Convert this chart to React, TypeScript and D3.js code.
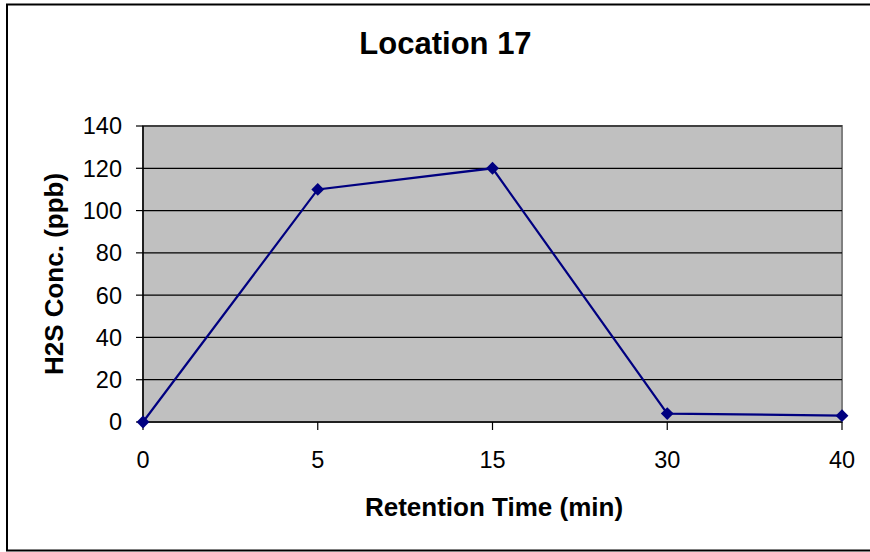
import React from "react";
import * as d3 from "d3";

const categories: string[] = ["0", "5", "15", "30", "40"];
const values: number[] = [0, 110, 120, 4, 3];
const yTicks: number[] = [0, 20, 40, 60, 80, 100, 120, 140];
const titleText = "Location 17";
const xTitle = "Retention Time (min)";
const yTitle = "H2S Conc. (ppb)";

const W = 870;
const H = 552;
const plot = { left: 143, right: 842, top: 126, bottom: 422 };
const font = "'Liberation Sans', Arial, sans-serif";

export default function App() {
  const x = d3.scalePoint<string>().domain(categories).range([plot.left, plot.right]).padding(0);
  const y = d3.scaleLinear().domain([0, 140]).range([plot.bottom, plot.top]);
  const line = d3
    .line<number>()
    .x((_, i) => x(categories[i]) as number)
    .y((d) => y(d));
  const diamond = d3.symbol().type(d3.symbolDiamond2).size(105)();

  return (
    <svg
      width={W}
      height={H}
      style={{ position: "absolute", left: 0, top: 0, background: "#fff" }}
      fontFamily={font}
    >
      <rect x={0} y={0} width={W} height={H} fill="#fff" />
      <rect x={7} y={4.5} width={W + 10} height={546} fill="none" stroke="#000" strokeWidth={2} />
      <text x={445.5} y={54} textAnchor="middle" fontSize={31} fontWeight="bold" fill="#000">
        {titleText}
      </text>
      <rect
        x={plot.left}
        y={plot.top}
        width={plot.right - plot.left}
        height={plot.bottom - plot.top}
        fill="#C0C0C0"
        stroke="#808080"
        strokeWidth={2}
      />
      {yTicks.map((t) =>
        t === 0 ? null : (
          <line key={"g" + t} x1={plot.left} x2={plot.right} y1={y(t)} y2={y(t)} stroke="#000" strokeWidth={1.2} />
        )
      )}
      <line x1={plot.left} x2={plot.left} y1={plot.top} y2={plot.bottom} stroke="#000" strokeWidth={1.5} />
      <line x1={plot.left} x2={plot.right} y1={plot.bottom} y2={plot.bottom} stroke="#000" strokeWidth={1.5} />
      {yTicks.map((t) => (
        <g key={"y" + t}>
          <line x1={plot.left - 7} x2={plot.left} y1={y(t)} y2={y(t)} stroke="#000" strokeWidth={1.2} />
          <text x={122} y={y(t)} dy="0.36em" textAnchor="end" fontSize={23.5} fill="#000">
            {t}
          </text>
        </g>
      ))}
      {categories.map((c) => (
        <g key={"x" + c}>
          <line x1={x(c)} x2={x(c)} y1={plot.bottom} y2={plot.bottom + 8} stroke="#000" strokeWidth={1.2} />
          <text x={x(c)} y={468} textAnchor="middle" fontSize={23.5} fill="#000">
            {c}
          </text>
        </g>
      ))}
      <path d={line(values) || ""} fill="none" stroke="#000080" strokeWidth={2.2} />
      {values.map((v, i) => (
        <path key={"m" + i} d={diamond || ""} transform={`translate(${x(categories[i])},${y(v)})`} fill="#000080" />
      ))}
      <text x={494} y={516} textAnchor="middle" fontSize={26} fontWeight="bold" fill="#000">
        {xTitle}
      </text>
      <text
        transform={`translate(62.5,${(plot.top + plot.bottom) / 2}) rotate(-90)`}
        textAnchor="middle"
        fontSize={26}
        fontWeight="bold"
        fill="#000"
      >
        {yTitle}
      </text>
    </svg>
  );
}
